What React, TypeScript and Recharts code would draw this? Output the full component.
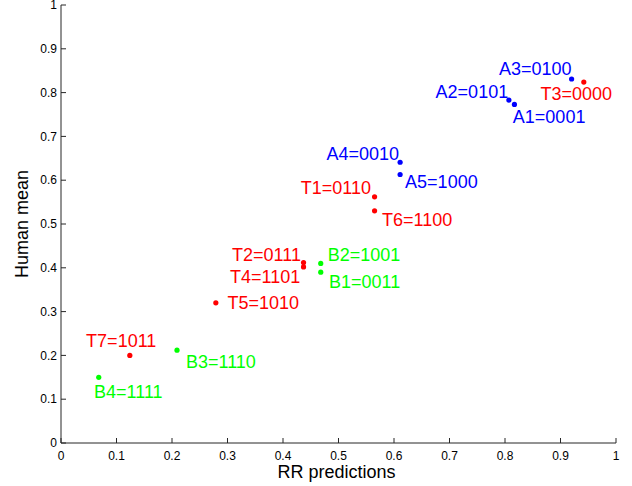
import React from 'react'
import { ScatterChart, Scatter, XAxis, YAxis } from 'recharts'

// Group A (blue)
const aNames = ['A1', 'A2', 'A3', 'A4', 'A5']
const aCodes = ['0001', '0101', '0100', '0010', '1000']
const aX = [0.817, 0.807, 0.92, 0.611, 0.611]
const aY = [0.773, 0.783, 0.831, 0.641, 0.613]

// Group T (red)
const tNames = ['T1', 'T2', 'T3', 'T4', 'T5', 'T6', 'T7']
const tCodes = ['0110', '0111', '0000', '1101', '1010', '1100', '1011']
const tX = [0.565, 0.437, 0.942, 0.437, 0.279, 0.565, 0.124]
const tY = [0.562, 0.412, 0.824, 0.402, 0.32, 0.53, 0.2]

// Group B (green)
const bNames = ['B1', 'B2', 'B3', 'B4']
const bCodes = ['0011', '1001', '1110', '1111']
const bX = [0.468, 0.468, 0.209, 0.068]
const bY = [0.39, 0.41, 0.212, 0.15]

const axisTicks = [0, 0.1, 0.2, 0.3, 0.4, 0.5, 0.6, 0.7, 0.8, 0.9, 1]

// label placement relative to the dot (pixels): anchor, dx, baseline dy
const labelPlace: Record<string, [string, number, number]> = {
  A1: ['start', -1.6, 19],
  A2: ['end', -0.7, -1.7],
  A3: ['end', 0, -4],
  A4: ['end', -1, -2.3],
  A5: ['start', 5, 13],
  T1: ['end', -3.6, -2.7],
  T2: ['end', -2.6, -2],
  T3: ['start', -43.3, 17.7],
  T4: ['end', -3.3, 15.7],
  T5: ['start', 11.6, 6.3],
  T6: ['start', 7.4, 15],
  T7: ['start', -43.7, -8.6],
  B1: ['start', 8.3, 16],
  B2: ['start', 7, -2.6],
  B3: ['start', 9, 18],
  B4: ['start', -4.7, 20.4],
}

const FONT = '"Liberation Sans", Arial, Helvetica, sans-serif'
const AXIS = '#262626'

const build = (names: string[], codes: string[], xs: number[], ys: number[]) =>
  names.map((n, i) => ({ name: n, label: `${n}=${codes[i]}`, x: xs[i], y: ys[i] }))

const aData = build(aNames, aCodes, aX, aY)
const tData = build(tNames, tCodes, tX, tY)
const bData = build(bNames, bCodes, bX, bY)

const makeShape = (color: string) => (p: any) => {
  const place = labelPlace[p.payload.name] || ['start', 6, 0]
  return (
    <g>
      <circle cx={p.cx} cy={p.cy} r={2.6} fill={color} />
      <text
        x={p.cx + place[1]}
        y={p.cy + place[2]}
        textAnchor={place[0] as any}
        fill={color}
        fontSize={18}
        fontFamily={FONT}
      >
        {p.payload.label}
      </text>
    </g>
  )
}

export default function App() {
  return (
    <div style={{ position: 'absolute', left: 0, top: 0, width: 632, height: 486, background: '#fff' }}>
      <ScatterChart
        width={632}
        height={486}
        margin={{ top: 5, right: 16, bottom: 0, left: 0 }}
        style={{ fontFamily: FONT }}
      >
        <XAxis
          type="number"
          dataKey="x"
          domain={[0, 1]}
          ticks={axisTicks}
          interval={0}
          height={43}
          tickSize={-5}
          tickMargin={13}
          stroke={AXIS}
          tick={{ fill: '#000', fontSize: 12, fontFamily: FONT }}
          label={(props: any) => {
            const vb = props.viewBox
            return (
              <text x={vb.x + vb.width / 2 - 2} y={478} textAnchor="middle" fontSize={18} fontFamily={FONT} fill="#000">
                RR predictions
              </text>
            )
          }}
        />
        <YAxis
          type="number"
          dataKey="y"
          domain={[0, 1]}
          ticks={axisTicks}
          interval={0}
          width={61}
          tickSize={-5}
          tickMargin={9}
          stroke={AXIS}
          tick={{ fill: '#000', fontSize: 12, fontFamily: FONT }}
          label={(props: any) => {
            const vb = props.viewBox
            const cy = vb.y + vb.height / 2
            return (
              <text x={28} y={cy} transform={`rotate(-90 28 ${cy})`} textAnchor="middle" fontSize={18} fontFamily={FONT} fill="#000">
                Human mean
              </text>
            )
          }}
        />
        <Scatter data={aData} shape={makeShape('#0000ff')} isAnimationActive={false} />
        <Scatter data={tData} shape={makeShape('#ff0000')} isAnimationActive={false} />
        <Scatter data={bData} shape={makeShape('#00ff00')} isAnimationActive={false} />
      </ScatterChart>
    </div>
  )
}
